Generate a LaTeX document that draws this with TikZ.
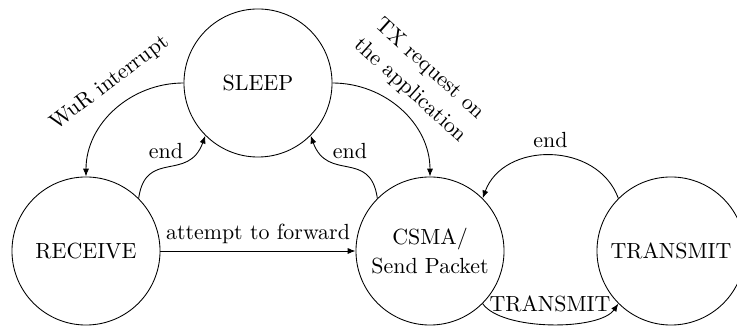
\documentclass[tikz,border=0pt]{standalone}
\usetikzlibrary{arrows.meta}
\begin{document}
\begin{tikzpicture}[x=0.4566pt,y=0.4566pt,
  state/.style={circle,draw,line width=0.4pt,minimum size=67.6pt,inner sep=0pt,align=center},
  trans/.style={draw,line width=0.4pt,-{Latex[length=3.6pt,width=2.8pt]}}]
\useasboundingbox (0,0) rectangle (737,329);
\node[state] (sleep) at (258,246) {SLEEP};
\node[state] (receive) at (86,78) {RECEIVE};
\node[state] (csma) at (430,78) {CSMA/\\[1.3pt]Send Packet};
\node[state] (transmit) at (671,78) {TRANSMIT};
\draw[trans] (sleep.west) to[out=180,in=90] (receive.north)
  node[rotate=37] (lwur) at (110,246) {WuR interrupt};
\draw[trans] (receive.45) to[out=82,in=-110,looseness=1.4] node[above,xshift=-1pt] (lend1) {end} (sleep.225);
\draw[trans] (csma.135) to[out=98,in=-70,looseness=1.4] node[above,xshift=1pt] (lend2) {end} (sleep.-45);
\draw[trans] (sleep.east) to[out=0,in=90] (csma.north)
  node[rotate=-42,align=center] (ltx) at (420,249) {TX request on\\[1.3pt]the application};
\draw[trans] (receive) -- node[above] (latt) {attempt to forward} (csma);
\draw[trans] (transmit.135) to[out=110,in=70,looseness=1.15] node[above] (lend3) {end} (csma.45);
\draw[trans] (csma.-45) to[out=-55,in=-125,looseness=0.63] (transmit.-135)
  node (ltr) at (550,25) {TRANSMIT};
\end{tikzpicture}
\end{document}
